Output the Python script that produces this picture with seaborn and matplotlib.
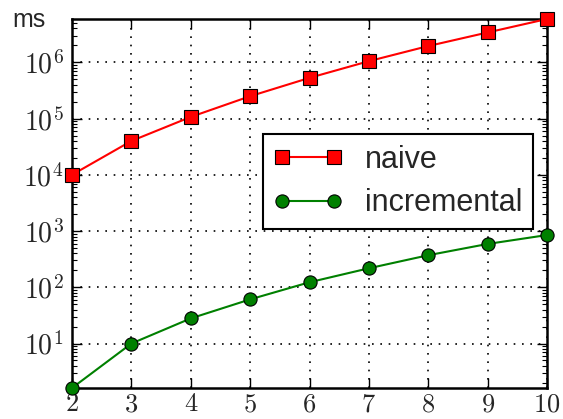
import math
import matplotlib
matplotlib.use("Agg")
import matplotlib.pyplot as plt
import seaborn as sns
import pandas as pd
from matplotlib.ticker import FixedLocator, FuncFormatter, LogLocator, NullFormatter

# data
n_values = [2, 3, 4, 5, 6, 7, 8, 9, 10]
naive_ms = [1.0e4, 4.0e4, 1.07e5, 2.5e5, 5.3e5, 1.05e6, 1.95e6, 3.4e6, 5.9e6]
incremental_ms = [1.62, 10, 28, 61, 123, 218, 372, 590, 850]
series_names = ["naive", "incremental"]
y_ticks = [1e1, 1e2, 1e3, 1e4, 1e5, 1e6]
y_label = "ms"

sns.set_style("ticks")
plt.rcParams["mathtext.fontset"] = "cm"
plt.rcParams["mathtext.default"] = "rm"
plt.rcParams["font.family"] = ["Liberation Sans", "DejaVu Sans"]

df = pd.DataFrame({"n": n_values * 2,
                   "ms": naive_ms + incremental_ms,
                   "series": [series_names[0]] * len(n_values) + [series_names[1]] * len(n_values)})

fig = plt.figure(figsize=(5.63, 4.19), dpi=100)
ax = fig.add_axes([72 / 563, 1 - 388 / 419, 475 / 563, 369 / 419])

styles = {"naive": dict(color="#ff0000", marker="s"), "incremental": dict(color="#008000", marker="o")}
for name in series_names:
    sub = df[df["series"] == name]
    sns.lineplot(data=sub, x="n", y="ms", ax=ax, color=styles[name]["color"],
                 marker=styles[name]["marker"], markersize=9.5, markeredgecolor="black",
                 markeredgewidth=0.8, linewidth=1.5, label=name, clip_on=False, zorder=3)

ax.set_yscale("log")
ax.set_xlim(min(n_values), max(n_values))
ax.set_ylim(min(incremental_ms), max(naive_ms))
ax.set_xlabel("")
ax.set_ylabel("")

ax.xaxis.set_major_locator(FixedLocator(n_values))
ax.xaxis.set_major_formatter(FuncFormatter(lambda v, p: r"$%d$" % v))
ax.yaxis.set_major_locator(FixedLocator(y_ticks))
ax.yaxis.set_minor_locator(LogLocator(base=10, subs=range(2, 10)))
ax.yaxis.set_minor_formatter(NullFormatter())
ax.yaxis.set_major_formatter(FuncFormatter(lambda v, p: r"$10^{%d}$" % round(math.log10(v))))

ax.tick_params(which="both", direction="in", top=True, right=True, color="black")
ax.tick_params(which="major", length=7, width=1, labelsize=20, pad=6)
ax.tick_params(which="minor", length=3.5, width=0.8)
ax.tick_params(axis="x", pad=3, labelsize=19)

for s in ax.spines.values():
    s.set_linewidth(1.8)
    s.set_color("black")

ax.grid(True, which="major", linestyle=(0, (1, 4)), color="black", linewidth=1.2)
ax.set_axisbelow(True)

leg = ax.legend(loc="upper right", bbox_to_anchor=((533 - 72) / 475, (388 - 134) / 369),
                borderaxespad=0, fontsize=22, fancybox=False, framealpha=1,
                edgecolor="black", handlelength=2.3, handletextpad=0.7,
                labelspacing=0.45, borderpad=0.35, numpoints=2)
leg.get_frame().set_linewidth(1.5)

fig.text(12 / 563, 1 - 27 / 419, y_label, fontsize=18, va="baseline", ha="left")

fig.savefig("out.png", dpi=100)
